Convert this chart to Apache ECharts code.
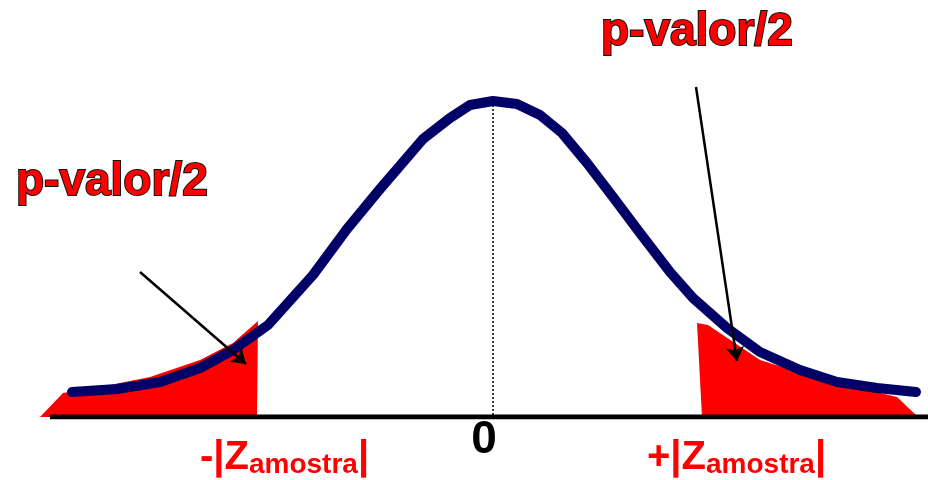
<!DOCTYPE html>
<html>
<head>
<meta charset="utf-8">
<script src="https://cdn.jsdelivr.net/npm/echarts@6/dist/echarts.min.js"></script>
<style>
  html, body { margin: 0; padding: 0; background: #fff; }
  #main { width: 928px; height: 480px; }
</style>
</head>
<body>
<div id="main"></div>
<script>
// curva normal (x em unidades z, y = altura)
const curveX = [-4.21, -3.76, -3.33, -2.93, -2.60, -2.25, -1.80, -1.46, -1.13, -0.70, -0.43, -0.23, 0,
  0.24, 0.47, 0.69, 0.94, 1.20, 1.47, 1.77, 2.00, 2.34, 2.67, 3.07, 3.44, 3.84, 4.23];
const curveY = [0.25, 0.28, 0.35, 0.49, 0.67, 0.92, 1.42, 1.88, 2.28, 2.78, 2.99, 3.12, 3.16,
  3.13, 3.02, 2.84, 2.54, 2.20, 1.84, 1.45, 1.19, 0.89, 0.65, 0.47, 0.35, 0.29, 0.25];

// caudas vermelhas (p-valor/2)
const leftTailX = [-4.53, -4.30, -3.93, -3.43, -2.93, -2.60, -2.35, -2.36];
const leftTailY = [0, 0.24, 0.30, 0.40, 0.57, 0.74, 0.96, 0];
const rightTailX = [2.09, 2.04, 2.15, 2.67, 3.24, 4.04, 4.25];
const rightTailY = [0, 0.94, 0.92, 0.57, 0.39, 0.20, 0];

// eixo horizontal e setas
const axisX = [-4.43, 4.35];
const arrowLeft = [[-3.53, 1.45], [-2.47, 0.53]];
const arrowRight = [[2.03, 3.30], [2.44, 0.56]];

const tickValues = [0];
const tickLabels = ['0'];

const font = "'Liberation Sans', Arial, sans-serif";

function pairs(xs, ys) {
  return xs.map((x, i) => [x, ys[i]]);
}

function zLabel(sign, x) {
  return {
    type: 'text', x: x, y: 485, z: 100,
    style: {
      text: '{m|' + sign + '|Z}{s|amostra}{m||}', verticalAlign: 'bottom', fill: '#ff0000',
      rich: {
        m: { font: 'bold 40px ' + font, fill: '#ff0000', lineHeight: 40, padding: [0, 0, 14, 0] },
        s: { font: 'bold 28px ' + font, fill: '#ff0000', lineHeight: 28 }
      }
    }
  };
}

const chart = echarts.init(document.getElementById('main'));
chart.setOption({
  animation: false,
  grid: { left: 0, right: 0, top: 0, bottom: 63 },
  xAxis: {
    type: 'value',
    min: -4.93,
    max: 4.35,
    splitLine: { show: false },
    axisTick: { show: false },
    axisLine: { show: false },
    axisLabel: {
      customValues: tickValues,
      formatter: v => tickLabels[tickValues.indexOf(v)],
      color: '#000',
      fontFamily: font,
      fontWeight: 'bold',
      fontSize: 46,
      margin: 0,
      padding: [0, 18, 0, 0]
    }
  },
  yAxis: { type: 'value', min: 0, max: 4.17, show: false },
  graphic: [
    {
      type: 'text', left: 15, top: 158, z: 100,
      style: { text: 'p-valor/2', font: 'bold 46px ' + font, fill: '#ff0000', stroke: '#111', lineWidth: 2 }
    },
    {
      type: 'text', left: 600, top: 8, z: 100,
      style: { text: 'p-valor/2', font: 'bold 46px ' + font, fill: '#ff0000', stroke: '#111', lineWidth: 2 }
    },
    zLabel('-', 200),
    zLabel('+', 647)
  ],
  series: [
    {
      name: 'cauda esquerda',
      type: 'line',
      data: pairs(leftTailX, leftTailY),
      showSymbol: false,
      lineStyle: { width: 0 },
      areaStyle: { color: '#ff0000', opacity: 1 },
      z: 1
    },
    {
      name: 'cauda direita',
      type: 'line',
      data: pairs(rightTailX, rightTailY),
      showSymbol: false,
      lineStyle: { width: 0 },
      areaStyle: { color: '#ff0000', opacity: 1 },
      z: 1
    },
    {
      name: 'eixo',
      type: 'line',
      data: axisX.map(x => [x, 0]),
      showSymbol: false,
      lineStyle: { color: '#000', width: 5 },
      z: 2
    },
    {
      name: 'normal',
      type: 'line',
      data: pairs(curveX, curveY),
      showSymbol: false,
      lineStyle: { color: '#000066', width: 10, cap: 'round', join: 'round' },
      z: 3
    },
    {
      name: 'media',
      type: 'line',
      data: [[0, curveY[curveX.indexOf(0)]], [0, 0]],
      showSymbol: false,
      lineStyle: { color: '#000', width: 1.5, type: [2, 2] },
      z: 4
    },
    {
      name: 'setas',
      type: 'lines',
      coordinateSystem: 'cartesian2d',
      symbol: ['none', 'arrow'],
      symbolSize: 14,
      lineStyle: { color: '#000', width: 2.5, opacity: 1, curveness: 0 },
      data: [{ coords: arrowLeft }, { coords: arrowRight }],
      z: 5
    }
  ]
});
</script>
</body>
</html>
